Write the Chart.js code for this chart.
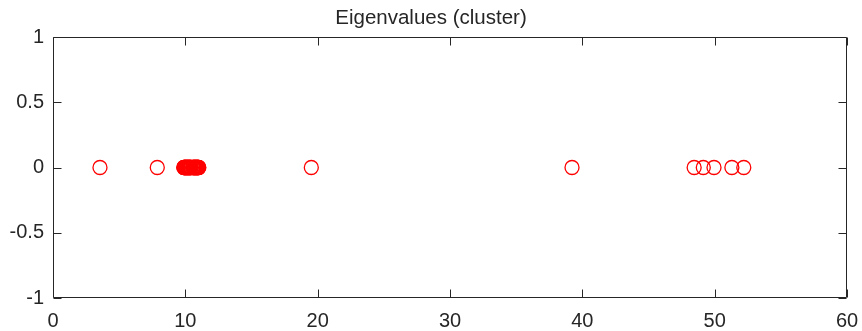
<!DOCTYPE html>
<html>
<head>
<meta charset="utf-8">
<script src="https://cdn.jsdelivr.net/npm/chart.js@4/dist/chart.umd.min.js"></script>
<style>
html,body{margin:0;padding:0;background:#fff;}
#wrap{width:862px;height:331px;}
</style>
</head>
<body>
<div id="wrap"><canvas id="c" width="862" height="331"></canvas></div>
<script>
const titleText = 'Eigenvalues (cluster)';
const eigenvalues = [3.55, 7.88,
  9.88, 9.90, 9.92, 9.94, 9.96, 9.98, 10.00, 10.02, 10.04, 10.06, 10.08,
  10.10, 10.12, 10.14, 10.16, 10.18, 10.20, 10.22, 10.24, 10.26, 10.28,
  10.30, 10.32, 10.34, 10.36, 10.38, 10.40, 10.43, 10.46,
  10.54, 10.57, 10.60, 10.62, 10.64, 10.66, 10.68, 10.70, 10.72, 10.74,
  10.76, 10.78, 10.80, 10.82, 10.84, 10.86, 10.88, 10.90, 10.92, 10.94,
  10.96, 10.98, 11.00, 11.02,
  19.52, 39.22, 48.45, 49.14, 49.95, 51.3, 52.2];
const imagParts = eigenvalues.map(() => 0);
const xTicks = [0, 10, 20, 30, 40, 50, 60];
const yTicks = [-1, -0.5, 0, 0.5, 1];

const axisColor = '#262626';
const points = eigenvalues.map((v, i) => ({x: v, y: imagParts[i]}));

const boxPlugin = {
  id: 'matlabBox',
  afterDraw(chart) {
    const {ctx, chartArea: a, scales} = chart;
    const L = Math.round(a.left) + 0.5, R = Math.round(a.right) - 0.5;
    const T = Math.round(a.top) + 0.5, B = Math.round(a.bottom) - 0.5;
    ctx.save();
    ctx.strokeStyle = axisColor;
    ctx.lineWidth = 1;
    ctx.beginPath();
    ctx.rect(L, T, R - L, B - T);
    const tl = 8;
    scales.x.ticks.forEach(t => {
      const px = Math.round(scales.x.getPixelForValue(t.value)) + 0.5;
      ctx.moveTo(px, B); ctx.lineTo(px, B - tl);
      ctx.moveTo(px, T); ctx.lineTo(px, T + tl);
    });
    scales.y.ticks.forEach(t => {
      const py = Math.round(scales.y.getPixelForValue(t.value)) + 0.5;
      ctx.moveTo(L, py); ctx.lineTo(L + tl, py);
      ctx.moveTo(R, py); ctx.lineTo(R - tl, py);
    });
    ctx.stroke();
    ctx.restore();
  }
};

new Chart(document.getElementById('c'), {
  type: 'scatter',
  data: {
    datasets: [{
      data: points,
      pointStyle: 'circle',
      pointRadius: 7,
      pointHoverRadius: 7,
      borderColor: '#ff0000',
      backgroundColor: 'rgba(0,0,0,0)',
      borderWidth: 1.3,
      showLine: false
    }]
  },
  options: {
    responsive: false,
    animation: false,
    devicePixelRatio: 1,
    layout: {padding: 0},
    plugins: {
      legend: {display: false},
      tooltip: {enabled: false},
      title: {
        display: true,
        text: titleText,
        color: axisColor,
        font: {family: 'Liberation Sans, Arial, sans-serif', size: 20.5, weight: 'normal'},
        padding: {top: 6, bottom: 6.4}
      }
    },
    scales: {
      x: {
        type: 'linear',
        min: 0, max: 60,
        afterBuildTicks(s) { s.ticks = xTicks.map(v => ({value: v})); },
        afterFit(s) { s.height = 33; s.paddingLeft = 0; s.paddingRight = 15; },
        grid: {display: false, drawTicks: false},
        border: {display: false},
        ticks: {
          color: axisColor,
          padding: 11,
          maxRotation: 0,
          font: {family: 'Liberation Sans, Arial, sans-serif', size: 20},
          callback: v => String(v)
        }
      },
      y: {
        type: 'linear',
        min: -1, max: 1,
        afterBuildTicks(s) { s.ticks = yTicks.map(v => ({value: v})); },
        afterFit(s) { s.width = 53; s.paddingTop = 0; s.paddingBottom = 0; },
        grid: {display: false, drawTicks: false},
        border: {display: false},
        ticks: {
          color: axisColor,
          padding: 9,
          font: {family: 'Liberation Sans, Arial, sans-serif', size: 20},
          callback: v => String(v)
        }
      }
    }
  },
  plugins: [boxPlugin]
});
</script>
</body>
</html>
